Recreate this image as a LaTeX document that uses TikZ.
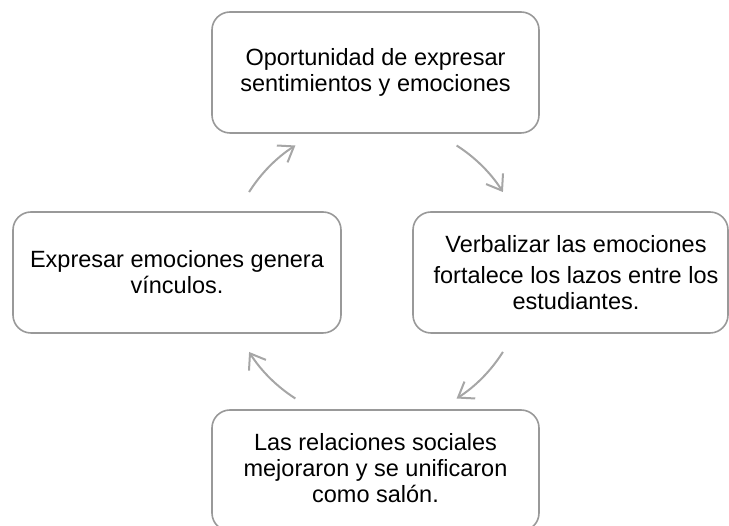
\documentclass[tikz,border=0pt]{standalone}
\usepackage{fontspec}
\setmainfont{Liberation Sans}
\usetikzlibrary{arrows.meta}
\begin{document}
\begin{tikzpicture}[x=1pt,y=1pt,
  box/.style={draw=black!40, line width=1.6pt, rounded corners=18pt, fill=white, inner sep=0pt},
  lbl/.style={align=center, font=\fontsize{23.5}{26}\selectfont, text=black, inner sep=0pt},
  cyc/.style={draw=black!35, line width=2pt, -{Straight Barb[length=14pt,width=20pt]}}]
\useasboundingbox (0,0) rectangle (729,526);
\clip (0,0) rectangle (729,526);
% boxes
\node[box, minimum width=327pt, minimum height=121pt] (top) at (375.5,453.5) {};
\node[box, minimum width=315pt, minimum height=121pt] (right) at (570.5,253.5) {};
\node[box, minimum width=328pt, minimum height=121pt] (left) at (177,253.5) {};
\node[box, minimum width=327pt, minimum height=121pt] (bottom) at (375.5,55.5) {};
% texts
\node[lbl] (topt) at (top.center) {Oportunidad de expresar\\sentimientos y emociones};
\node[lbl] (rightt) at (576,253.5) {Verbalizar las emociones\\[5pt]fortalece los lazos entre los\\estudiantes.};
\node[lbl] (leftt) at (left.center) {Expresar emociones genera\\v\'inculos.};
\node[lbl] (bottomt) at (375.5,58) {Las relaciones sociales\\mejoraron y se unificaron\\como sal\'on.};
% cycle arrows
\coordinate (c) at (376,254);
\draw[cyc] ([shift={(147.8:150)}]c) arc[start angle=147.8, end angle=122.5, radius=150];
\draw[cyc] ([shift={(57.5:150)}]c) arc[start angle=57.5, end angle=32.2, radius=150];
\draw[cyc] ([shift={(-32.2:150)}]c) arc[start angle=-32.2, end angle=-57.5, radius=150];
\draw[cyc] ([shift={(-122.5:150)}]c) arc[start angle=-122.5, end angle=-147.8, radius=150];
\end{tikzpicture}
\end{document}
